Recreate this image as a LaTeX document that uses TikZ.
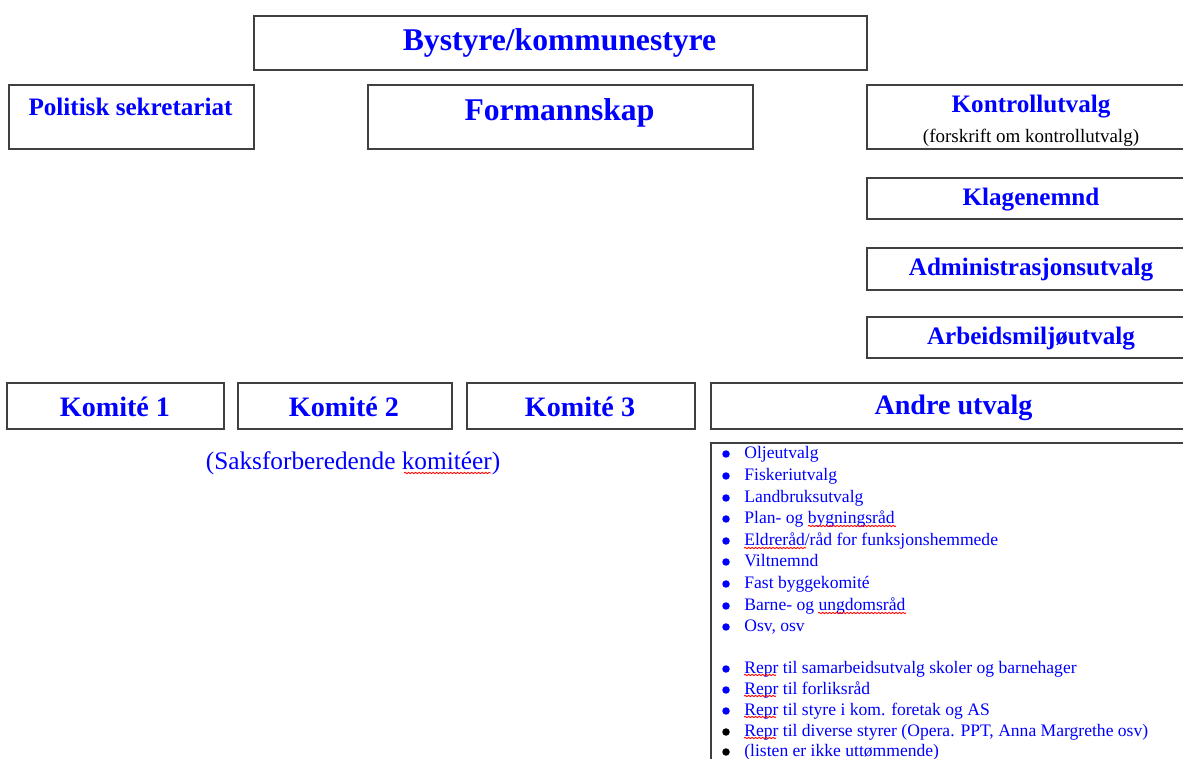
\documentclass[tikz,border=0pt]{standalone}
\usepackage{fontspec}
\setmainfont{Liberation Serif}
\usetikzlibrary{decorations.pathmorphing}

\begin{document}
\begin{tikzpicture}[x=0.02cm,y=-0.02cm,
    box/.style = {draw=black!75, line width=1pt, inner sep=0pt, anchor=north west},
    head/.style = {text=blue, inner sep=0pt, font=\fontsize{18}{20}\selectfont\bfseries},
    sub/.style = {text=blue, inner sep=0pt, font=\fontsize{14.3}{16}\selectfont\bfseries},
    kom/.style = {text=blue, inner sep=0pt, font=\fontsize{16}{18}\selectfont\bfseries},
    note/.style = {inner sep=0pt, font=\fontsize{10.8}{12}\selectfont},
    entry/.style = {anchor=west, inner sep=0pt, text=blue, text height=7pt, text depth=2pt,
                    font=\fontsize{10}{12}\selectfont},
    dot/.style = {circle, inner sep=0pt, minimum size=0.15cm},
    wavy/.style = {red, line width=0.5pt, decorate,
                   decoration={snake, amplitude=0.012cm, segment length=0.07cm}}]

\useasboundingbox (0,0) rectangle (1183,759);
\fill[white] (0,0) rectangle (1183,759);

% top level
\node[box, minimum width=12.26cm, minimum height=1.08cm] (by) at (253,15) {};
\node[head] (bytxt) at (559.5,43) {Bystyre/kommunestyre};

\node[box, minimum width=4.9cm, minimum height=1.28cm] (pol) at (8,84) {};
\node[sub] (poltxt) at (130.5,107) {Politisk sekretariat};
\node[box, minimum width=7.7cm, minimum height=1.28cm] (form) at (367,84) {};
\node[head] (formtxt) at (559.5,113) {Formannskap};
\node[box, minimum width=6.6cm, minimum height=1.28cm] (kontr) at (866,84) {};
\node[sub] (kontrtxt) at (1031,107) {Kontrollutvalg};
\node[note] (forskr) at (1031,138) {(forskrift om kontrollutvalg)};

% right column
\node[box, minimum width=6.6cm, minimum height=0.82cm] (klage) at (866,177) {};
\node[sub] (klagetxt) at (1031,199.5) {Klagenemnd};
\node[box, minimum width=6.6cm, minimum height=0.84cm] (adm) at (866,247) {};
\node[sub] (admtxt) at (1031,270) {Administrasjonsutvalg};
\node[box, minimum width=6.6cm, minimum height=0.82cm] (amu) at (866,316) {};
\node[sub] (amutxt) at (1031,339) {Arbeidsmiljøutvalg};

% committees
\node[box, minimum width=4.34cm, minimum height=0.92cm] (k1) at (6,382) {};
\node[kom] (k1txt) at (115,407) {Komité 1};
\node[box, minimum width=4.28cm, minimum height=0.92cm] (k2) at (237,382) {};
\node[kom] (k2txt) at (344,407) {Komité 2};
\node[box, minimum width=4.56cm, minimum height=0.92cm] (k3) at (466,382) {};
\node[kom] (k3txt) at (580,407) {Komité 3};
\node[box, minimum width=9.74cm, minimum height=0.92cm] (andre) at (710,382) {};
\node[kom] (andretxt) at (953.5,408) {Andre utvalg};

\node[note, text=blue, font=\fontsize{14.4}{16}\selectfont] (saks) at (353,463) {(Saksforberedende komitéer)};

% list
\node[box, minimum width=9.74cm, minimum height=6.8cm] (liste) at (710,442) {};
\foreach \y/\t/\c [count=\i] in {
    454/Oljeutvalg/blue, 476/Fiskeriutvalg/blue, 498/Landbruksutvalg/blue,
    519/Plan- og bygningsråd/blue, 541/Eldreråd\slash råd for funksjonshemmede/blue,
    562/Viltnemnd/blue, 584/Fast byggekomité/blue, 606/Barne- og ungdomsråd/blue,
    627/{Osv, osv}/blue,
    669/Repr til samarbeidsutvalg skoler og barnehager/blue,
    690/Repr til forliksråd/blue, 711/Repr til styre i kom. foretak og AS/blue,
    732/{Repr til diverse styrer (Opera. PPT, Anna Margrethe osv)}/black,
    752/(listen er ikke uttømmende)/black} {
  \node[dot, fill=\c] (b\i) at (726,\y) {};
  \node[entry] (e\i) at (744,\y) {\t};
}

% spelling marks
\draw[wavy] (404,473) -- (491,473);
\draw[wavy] (808,526) -- (896,526);
\draw[wavy] (744,548) -- (806,548);
\draw[wavy] (818,613) -- (906,613);
\foreach \y in {675,696,717,738}
  \draw[wavy] (744,\y) -- (776,\y);
\end{tikzpicture}
\end{document}
